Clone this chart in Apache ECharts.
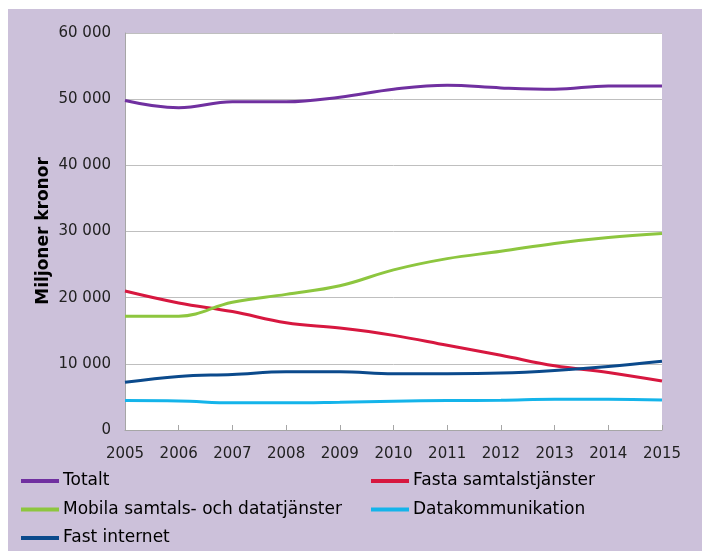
<!DOCTYPE html>
<html>
<head>
<meta charset="utf-8">
<script src="https://cdn.jsdelivr.net/npm/echarts@6/dist/echarts.min.js"></script>
<style>
  html, body { margin: 0; padding: 0; background: #fff; }
  #chart { position: absolute; left: 8px; top: 9px; width: 694px; height: 542px; background: #CCC1DA; }
</style>
</head>
<body>
<div id="chart"></div>
<script>
// years on the x axis
const years = ['2005', '2006', '2007', '2008', '2009', '2010', '2011', '2012', '2013', '2014', '2015']

// miljoner kronor
const totalt = [49800, 48700, 49600, 49600, 50300, 51500, 52100, 51700, 51500, 52000, 52000]
const fasta = [21000, 19200, 17900, 16200, 15400, 14300, 12800, 11300, 9700, 8700, 7400]
const mobila = [17200, 17200, 19300, 20500, 21800, 24200, 25900, 27000, 28200, 29100, 29700]
const datakomm = [4450, 4400, 4100, 4100, 4200, 4350, 4450, 4500, 4650, 4650, 4550]
const fastInternet = [7200, 8100, 8400, 8800, 8800, 8500, 8500, 8600, 9000, 9600, 10400]

const chart = echarts.init(document.getElementById('chart'))

const font = 'DejaVu Sans, Verdana, sans-serif'

const mkLine = (name, data, color) => ({
  name: name,
  type: 'line',
  data: data,
  smooth: 0.4,
  symbol: 'none',
  lineStyle: { width: 3, color: color },
  itemStyle: { color: color }
})

const legendCommon = {
  orient: 'vertical',
  top: 462,
  padding: 0,
  height: 90,
  icon: 'rect',
  itemWidth: 38,
  itemHeight: 4,
  itemGap: 8.5,
  textStyle: { fontFamily: font, fontSize: 17, color: '#000', lineHeight: 20, padding: [0, 0, 0, -1] }
}

chart.setOption({
  animation: false,
  grid: { left: 117, right: 40, top: 24, bottom: 121 },
  legend: [
    Object.assign({ left: 13, data: ['Totalt', 'Mobila samtals- och datatjänster', 'Fast internet'] }, legendCommon),
    Object.assign({ left: 363, data: ['Fasta samtalstjänster', 'Datakommunikation'] }, legendCommon)
  ],
  xAxis: {
    type: 'category',
    data: years,
    boundaryGap: false,
    axisLine: { lineStyle: { color: '#A6A6A6', width: 1 } },
    axisTick: { show: true, inside: true, length: 5, alignWithLabel: true, lineStyle: { color: '#A6A6A6' } },
    axisLabel: { fontFamily: font, fontSize: 15, color: '#222', margin: 17 }
  },
  yAxis: {
    type: 'value',
    min: 0,
    max: 60000,
    interval: 10000,
    axisLine: { show: true, lineStyle: { color: '#A6A6A6' } },
    axisTick: { show: false },
    splitLine: { lineStyle: { color: '#BFBFBF' } },
    axisLabel: {
      fontFamily: font, fontSize: 15, color: '#222', margin: 14,
      formatter: v => String(v).replace(/\B(?=(\d{3})+(?!\d))/g, ' ')
    }
  },
  graphic: [{
    type: 'rect',
    shape: { x: 117, y: 24, width: 537, height: 397 },
    style: { fill: '#fff' },
    z: -1,
    silent: true
  }, {
    // y axis title
    type: 'text',
    x: 36,
    y: 222,
    rotation: Math.PI / 2,
    style: {
      text: 'Miljoner kronor',
      font: 'bold 17px DejaVu Sans, Verdana, sans-serif',
      fill: '#000',
      align: 'center',
      verticalAlign: 'middle'
    }
  }],
  series: [
    mkLine('Totalt', totalt, '#7030A0'),
    mkLine('Fasta samtalstjänster', fasta, '#D7173F'),
    mkLine('Mobila samtals- och datatjänster', mobila, '#8DC63F'),
    mkLine('Datakommunikation', datakomm, '#14B4EA'),
    mkLine('Fast internet', fastInternet, '#0B4A8C')
  ]
})
</script>
</body>
</html>
